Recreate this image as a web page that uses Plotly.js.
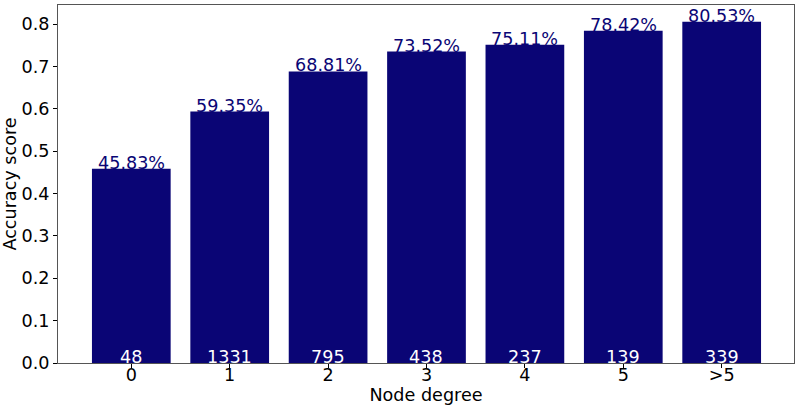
<!DOCTYPE html>
<html><head><meta charset="utf-8">
<script src="https://cdn.plot.ly/plotly-3.0.1.min.js"></script>
<style>body{margin:0;padding:0;background:#fff}#chart{width:800px;height:411px}</style>
</head><body><div id="chart"></div>
<script>
const categories = ["0", "1", "2", "3", "4", "5", ">5"];
const accuracy = [0.4583, 0.5935, 0.6881, 0.7352, 0.7511, 0.7842, 0.8053];
const counts = [48, 1331, 795, 438, 237, 139, 339];
const yTicks = [0.0, 0.1, 0.2, 0.3, 0.4, 0.5, 0.6, 0.7, 0.8];

const xs = categories.map((c, i) => i);
const barColor = "#0a0575";
const font = "DejaVu Sans, sans-serif";

const annotations = [];
xs.forEach((x, i) => {
  annotations.push({x: x, y: accuracy[i], xref: "x", yref: "y", text: (accuracy[i]*100).toFixed(2) + "%",
    showarrow: false, yanchor: "bottom", xanchor: "center", yshift: -6,
    font: {family: font, size: 17.6, color: barColor}});
  annotations.push({x: x, y: 0, xref: "x", yref: "y", text: String(counts[i]),
    showarrow: false, yanchor: "bottom", xanchor: "center", yshift: -6,
    font: {family: font, size: 17.6, color: "#ffffff"}});
});

Plotly.newPlot("chart", [{
  type: "bar", x: xs, y: accuracy, width: 0.8,
  marker: {color: barColor}, hoverinfo: "none"
}], {
  width: 800, height: 411,
  margin: {l: 58, r: 6, t: 5, b: 48},
  paper_bgcolor: "#fff", plot_bgcolor: "#fff",
  showlegend: false,
  font: {family: font, size: 17.6, color: "#000"},
  xaxis: {range: [-0.745, 6.735], tickvals: xs, ticktext: categories, ticks: "outside", ticklen: 4,
    tickcolor: "#000", showline: true, linecolor: "#555", linewidth: 1, mirror: true, showgrid: false,
    zeroline: false, tickfont: {size: 17.6}, ticklabelstandoff: -8,
    title: {text: "Node degree", font: {size: 17.6}, standoff: 2}},
  yaxis: {range: [0, 0.845], tickvals: yTicks, ticktext: yTicks.map(v => v.toFixed(1)), ticks: "outside", ticklen: 4,
    tickcolor: "#000", showline: true, linecolor: "#555", linewidth: 1, mirror: true, showgrid: false,
    zeroline: false, tickfont: {size: 17.6}, title: {text: "Accuracy score", font: {size: 17.6}, standoff: 3}},
  annotations: annotations
}, {displayModeBar: false, staticPlot: true});
</script></body></html>
